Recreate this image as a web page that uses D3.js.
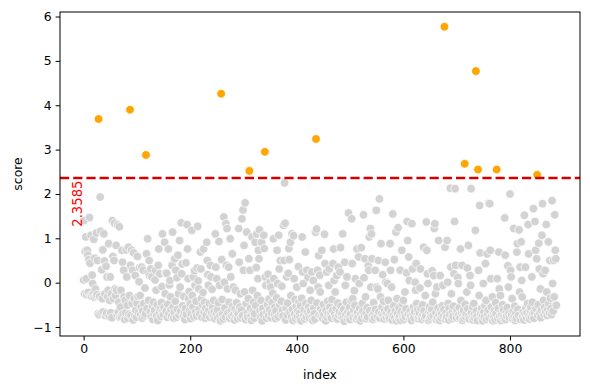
<!DOCTYPE html>
<html>
<head>
<meta charset="utf-8">
<script src="https://cdn.jsdelivr.net/npm/d3@7"></script>
<style>
html,body{margin:0;padding:0;background:#fff;}
svg{display:block;font-family:"DejaVu Sans",sans-serif;}
</style>
</head>
<body>
<svg id="chart" width="590" height="389"></svg>
<script>
// score per index (index = position in array)
const scores = [
0.06,1.40,-0.25,0.71,1.03,0.09,-0.27,0.73,0.62,-0.22,
0.52,1.47,0.44,-0.29,1.07,-0.31,0.17,-0.02,-0.26,0.98,
-0.33,0.55,-0.14,-0.30,1.12,-0.27,0.50,-0.70,3.69,-0.72,
-0.31,1.93,1.16,-0.68,0.29,-0.36,0.74,-0.66,1.10,0.49,
-0.25,-0.74,0.37,-0.69,0.13,-0.32,-0.17,0.88,-0.76,-0.40,
0.13,-0.68,-0.25,-0.79,1.40,0.59,-0.36,0.50,1.34,-0.14,
-0.29,0.84,-0.17,-0.72,1.30,-0.66,-0.44,1.26,-0.78,-0.55,
-0.17,-0.77,0.73,0.46,-0.70,0.28,-0.32,-0.83,-0.40,-0.68,
0.74,0.13,-0.51,-0.80,0.80,-0.71,-0.29,3.90,0.39,-0.74,
0.73,-0.47,0.28,-0.84,0.67,-0.36,-0.74,0.16,-0.62,-0.78,
-0.46,0.59,-0.31,-0.68,0.02,0.34,-0.29,-0.72,-0.55,0.35,
-0.80,-0.64,0.28,-0.47,-0.75,-0.12,-0.70,2.88,0.65,-0.58,
0.99,0.24,-0.40,0.50,0.16,-0.66,0.31,-0.77,0.13,-0.52,
-0.83,-0.44,-0.70,-0.62,0.06,0.28,-0.17,-0.74,-0.50,-0.85,
0.39,0.76,-0.68,0.20,-0.58,-0.76,-0.45,-0.09,1.10,-0.63,
-0.72,-0.56,0.91,-0.25,0.22,-0.64,0.21,-0.78,-0.49,0.76,
-0.70,-0.05,0.05,-0.32,-0.61,-0.76,0.39,1.14,-0.55,-0.80,
-0.67,0.54,-0.42,0.28,-0.78,0.11,-0.60,0.62,-0.25,-0.73,
0.95,-0.10,-0.65,1.35,0.20,0.42,-0.52,-0.75,-0.31,-0.68,
-0.83,-0.58,0.45,-0.72,1.31,0.76,0.09,-0.36,-0.20,-0.63,
-0.48,-0.81,-0.70,1.18,-0.29,-0.55,0.13,-0.77,0.27,-0.06,
-0.66,-0.42,-0.75,0.33,1.27,0.04,-0.14,-0.60,-0.71,0.69,
0.31,-0.36,-0.78,-0.50,-0.22,0.76,-0.67,-0.44,-0.80,-0.58,
-0.73,0.91,0.50,0.18,-0.06,-0.62,-0.47,-0.78,0.39,0.13,
-0.69,-0.15,-0.55,-0.76,-0.40,-0.66,-0.81,1.10,0.35,-0.72,
0.09,-0.61,-0.79,-0.45,0.93,-0.06,-0.74,-0.86,4.26,0.52,
-0.38,-0.70,-0.82,1.48,0.01,-0.57,-0.77,1.33,0.39,1.22,
-0.14,-0.68,0.35,-0.44,-0.80,0.99,0.13,-0.63,-0.75,0.65,
-0.52,-0.10,-0.71,-0.84,-0.60,-0.17,-0.77,-0.45,-0.66,-0.81,
-0.70,1.22,0.46,-0.55,-0.25,-0.79,-0.62,1.44,-0.74,1.64,
0.28,0.84,-0.21,1.80,-0.83,-0.47,1.14,-0.69,-0.78,-0.36,
0.54,2.52,0.28,-0.58,-0.75,-0.85,1.03,-0.17,-0.66,-0.44,
-0.80,-0.70,0.91,-0.52,0.34,1.10,-0.29,0.09,0.73,0.54,
1.19,-0.63,-0.77,-0.40,0.91,-0.86,-0.58,-0.72,1.07,0.77,
2.95,0.13,-0.06,-0.80,-0.67,-0.49,0.19,-0.74,-0.37,-0.61,
0.01,-0.10,-0.79,-0.68,-0.45,-0.24,0.99,0.09,-0.72,-0.56,
-0.81,-0.64,-0.34,0.73,-0.02,-0.77,1.07,0.31,-0.50,0.50,
-0.70,-0.42,-0.08,-0.62,-0.75,1.29,0.50,2.25,1.34,-0.84,
-0.57,0.13,-0.73,-0.46,0.21,0.77,0.52,-0.66,0.91,-0.29,
-0.78,1.10,-0.60,-0.85,1.06,0.09,-0.71,-0.38,-0.81,-0.54,
-0.10,-0.76,-0.64,0.36,-0.44,-0.69,-0.79,-0.52,-0.86,-0.35,
1.03,0.24,-0.02,-0.74,-0.61,-0.82,0.69,-0.47,-0.77,0.28,
-0.66,0.12,-0.55,-0.72,-0.80,-0.17,-0.63,-0.40,0.24,-0.78,
-0.85,0.05,-0.58,-0.70,-0.82,1.14,3.24,1.21,-0.46,0.28,
-0.10,0.61,-0.73,0.17,-0.21,-0.59,-0.77,0.73,-0.66,-0.81,
-0.49,-0.72,1.09,0.43,-0.86,-0.62,0.24,-0.78,-0.42,-0.70,
-0.06,0.31,-0.55,-0.75,-0.67,-0.80,-0.38,-0.63,0.43,0.76,
0.05,-0.71,-0.21,-0.79,-0.58,0.16,-0.82,-0.46,0.35,-0.74,
-0.65,0.24,0.79,-0.53,-0.77,-0.69,1.10,-0.80,-0.60,-0.87,
0.46,-0.06,-0.72,-0.44,0.13,-0.81,-0.66,1.57,-0.76,-0.56,
-0.83,-0.70,-0.40,1.44,0.43,-0.36,-0.78,-0.62,-0.18,-0.51,
0.09,-0.74,-0.82,0.76,-0.67,-0.79,0.58,-0.02,-0.58,-0.86,
-0.71,0.79,-0.80,-0.47,-0.64,1.53,0.11,-0.75,0.54,-0.32,
-0.69,-0.81,-0.56,-0.77,0.38,0.28,1.03,-0.63,1.22,-0.10,
1.10,0.54,-0.73,-0.83,-0.45,-0.68,-0.79,0.28,-0.60,1.63,
-0.10,-0.76,-0.14,0.50,-0.66,1.89,-0.80,-0.32,0.88,-0.71,
-0.55,0.18,-0.74,-0.42,-0.82,-0.63,0.46,0.01,-0.78,-0.69,
-0.02,-0.59,-0.40,-0.75,-0.81,0.88,0.28,-0.67,-0.10,-0.84,
1.55,-0.73,-0.52,0.52,-0.79,-0.64,1.14,-0.86,-0.36,-0.70,
1.24,-0.81,-0.57,-0.76,0.28,-0.85,-0.66,0.73,-0.47,-0.78,
-0.40,-0.83,-0.68,-0.21,-0.77,-0.59,0.22,1.38,0.95,-0.72,
0.58,0.05,-0.80,-0.64,-0.75,-0.85,1.33,0.31,-0.70,-0.55,
-0.79,-0.66,0.01,-0.17,0.43,-0.47,-0.73,-0.61,-0.81,-0.76,
-0.69,-0.12,0.31,-0.58,-0.78,-0.83,-0.50,-0.72,0.80,-0.64,
-0.80,-0.29,-0.75,1.37,0.73,0.20,-0.02,-0.85,-0.67,-0.55,
-0.82,-0.71,-0.77,-0.60,0.27,-0.44,-0.74,0.16,1.22,1.33,
-0.25,-0.68,-0.83,-0.10,-0.79,-0.57,0.95,-0.73,-0.85,0.16,
-0.64,-0.80,-0.70,-0.52,-0.06,-0.76,-0.61,5.77,0.80,-0.82,
-0.69,-0.78,0.95,0.01,-0.47,-0.84,-0.58,-0.72,2.13,0.35,
-0.25,-0.81,-0.66,-0.76,-0.53,0.20,1.38,2.12,0.39,-0.70,
-0.79,-0.62,0.12,-0.02,-0.73,-0.56,-0.80,0.76,-0.40,-0.68,
0.39,-0.85,-0.74,-0.63,-0.81,2.68,-0.49,-0.77,-0.70,-0.21,
0.33,-0.59,0.84,-0.75,-0.82,0.16,-0.06,2.12,-0.67,-0.79,
-0.55,-0.84,-0.47,-0.72,-0.80,1.18,4.77,-0.64,-0.76,-0.85,
2.55,0.28,-0.29,1.74,0.67,-0.70,-0.81,-0.58,-0.74,-0.86,
-0.02,-0.66,-0.78,-0.52,0.43,-0.40,-0.83,0.65,-0.71,-0.61,
1.79,-0.80,1.78,0.73,0.09,-0.55,-0.74,-0.32,-0.86,-0.68,
-0.77,-0.62,-0.84,-0.45,-0.70,2.55,0.09,-0.81,-0.58,0.69,
-0.14,-0.76,-0.29,-0.85,-0.66,-0.73,-0.50,-0.80,-0.61,-0.78,
1.46,0.62,-0.83,-0.68,-0.75,-0.56,0.38,-0.10,-0.70,-0.79,
2.00,0.28,0.13,-0.72,-0.36,-0.82,-0.64,1.22,-0.77,-0.53,
-0.85,-0.69,-0.80,0.69,0.88,-0.60,-0.74,1.19,-0.21,0.35,
-0.83,0.92,0.05,-0.32,-0.76,-0.66,-0.84,1.52,-0.71,0.35,
-0.58,-0.79,-0.68,-0.47,1.31,0.65,-0.74,-0.82,-0.62,-0.55,
-0.77,0.13,-0.44,-0.70,1.67,-0.80,-0.66,1.38,0.73,-0.59,
0.54,2.43,-0.73,-0.50,0.89,0.31,-0.68,-0.14,-0.79,-0.62,
1.07,1.78,0.20,-0.40,-0.71,-0.56,0.28,-0.66,1.31,-0.21,
-0.74,-0.60,0.92,-0.48,-0.69,0.50,-0.35,-0.58,-0.72,1.85,
-0.02,-0.64,0.50,-0.32,1.53,0.73,0.54,-0.51
];
const threshold = 2.3585;
const thresholdLabel = "2.3585";
const xTicks = [0, 200, 400, 600, 800];
const yTicks = [-1, 0, 1, 2, 3, 4, 5, 6];
const xLabel = "index";
const yLabel = "score";
const normalColor = "#d3d3d3";
const outlierColor = "#ffa500";

const data = scores.map((s, i) => ({index: i, score: s}));

const svg = d3.select("#chart");
const plot = {left: 60, right: 580, top: 12, bottom: 336};

const xExt = d3.extent(data, d => d.index);
const xPad = (xExt[1] - xExt[0]) * 0.05;
const yExt = d3.extent(data, d => d.score);
const yPad = (yExt[1] - yExt[0]) * 0.05;

const x = d3.scaleLinear().domain([xExt[0] - xPad, xExt[1] + xPad]).range([plot.left, plot.right]);
const y = d3.scaleLinear().domain([yExt[0] - yPad, yExt[1] + yPad]).range([plot.bottom, plot.top]);

svg.append("clipPath").attr("id", "clip").append("rect")
  .attr("x", plot.left).attr("y", plot.top)
  .attr("width", plot.right - plot.left).attr("height", plot.bottom - plot.top);

svg.append("g").attr("clip-path", "url(#clip)")
  .selectAll("circle").data(data).join("circle")
  .attr("cx", d => x(d.index))
  .attr("cy", d => y(d.score))
  .attr("r", 4.3)
  .attr("fill", d => d.score > threshold ? outlierColor : normalColor)
  .attr("stroke", "#fff")
  .attr("stroke-width", 0.7);

// threshold line
svg.append("line")
  .attr("x1", plot.left).attr("x2", plot.right)
  .attr("y1", y(threshold)).attr("y2", y(threshold))
  .attr("stroke", "#d40000")
  .attr("stroke-width", 2.4)
  .attr("stroke-dasharray", "9.2,4");

svg.append("text")
  .attr("transform", `translate(${x(0) - 1.3},${y(threshold) + 2.5}) rotate(-90)`)
  .attr("text-anchor", "end")
  .attr("fill", "#ff0000")
  .attr("font-size", "13.2px")
  .text(thresholdLabel);

// axes
const fmt = d => d < 0 ? "\u2212" + Math.abs(d) : String(d);
const xAxis = d3.axisBottom(x).tickValues(xTicks).tickFormat(fmt).tickSizeOuter(0).tickSize(4.4).tickPadding(4);
const yAxis = d3.axisLeft(y).tickValues(yTicks).tickFormat(fmt).tickSizeOuter(0).tickSize(4.4).tickPadding(4);

const gx = svg.append("g").attr("transform", `translate(0,${plot.bottom})`).call(xAxis);
const gy = svg.append("g").attr("transform", `translate(${plot.left},0)`).call(yAxis);
[gx, gy].forEach(g => {
  g.select(".domain").remove();
  g.selectAll(".tick line").attr("stroke", "#000").attr("stroke-width", 1);
  g.selectAll(".tick text").attr("fill", "#000").attr("font-size", "12.4px")
    .attr("font-family", "DejaVu Sans, sans-serif");
});

// frame (spines)
svg.append("rect")
  .attr("x", plot.left).attr("y", plot.top)
  .attr("width", plot.right - plot.left).attr("height", plot.bottom - plot.top)
  .attr("fill", "none").attr("stroke", "#000").attr("stroke-width", 1);

// axis labels
svg.append("text")
  .attr("x", (plot.left + plot.right) / 2).attr("y", 379)
  .attr("text-anchor", "middle").attr("font-size", "12.4px").attr("fill", "#000")
  .text(xLabel);

svg.append("text")
  .attr("transform", `translate(21.5,${(plot.top + plot.bottom) / 2}) rotate(-90)`)
  .attr("text-anchor", "middle").attr("font-size", "12.4px").attr("fill", "#000")
  .text(yLabel);
</script>
</body>
</html>
